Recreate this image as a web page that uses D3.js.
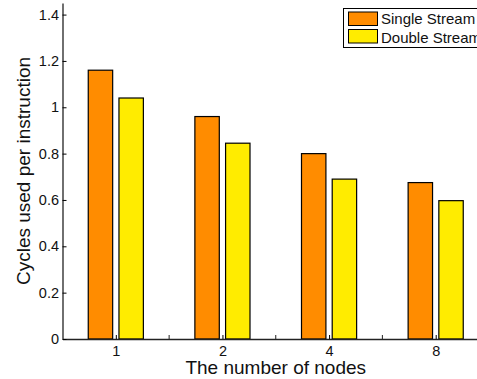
<!DOCTYPE html>
<html>

<head>
  <meta charset="utf-8">
  <script src="https://d3js.org/d3.v7.min.js"></script>
  <style>
    body { margin: 0; background: #fff; }
    text { font-family: "Liberation Sans", Arial, sans-serif; fill: #111; }
  </style>
</head>

<body>
  <div id="my_dataviz"></div>
  <script>
    // data
    var categories = ["1", "2", "4", "8"];
    var seriesNames = ["Single Stream", "Double Stream"];
    var singleStream = [1.16, 0.96, 0.80, 0.675];
    var doubleStream = [1.04, 0.845, 0.69, 0.597];
    var yTicks = [0, 0.2, 0.4, 0.6, 0.8, 1, 1.2, 1.4];
    var colors = ["#ff8c00", "#ffec00"];

    var W = 477, H = 379;
    var margin = { top: 3, right: -12, bottom: 40, left: 62.5 },
      width = W - margin.left - margin.right,
      height = H - margin.top - margin.bottom;

    var svg = d3.select("#my_dataviz")
      .append("svg")
      .attr("width", W)
      .attr("height", H)
      .append("g")
      .attr("transform", "translate(" + margin.left + "," + margin.top + ")");

    // x positions 1..4, axis runs 0.5 .. 4.5 (right part is cut off)
    var x = d3.scaleLinear()
      .domain([0.5, categories.length + 0.5])
      .range([0, width]);

    var y = d3.scaleLinear()
      .domain([0, 1.45])
      .range([height, 0]);

    var barW = 0.229, offset = 0.144;
    var series = [singleStream, doubleStream];

    // Bars
    series.forEach(function (vals, s) {
      svg.selectAll("bar" + s)
        .data(vals)
        .enter()
        .append("rect")
        .attr("x", function (d, i) { return x(i + 1 + (s === 0 ? -offset : offset) - barW / 2); })
        .attr("width", x(barW) - x(0))
        .attr("y", function (d) { return y(d); })
        .attr("height", function (d) { return y(0) - y(d); })
        .style("fill", colors[s])
        .attr("stroke", "#000")
        .attr("stroke-width", 1.2);
    });

    // X axis (ticks pointing inward)
    var xAxis = svg.append("g")
      .attr("transform", "translate(0," + height + ")")
      .call(d3.axisBottom(x)
        .tickValues(d3.range(1, categories.length + 1))
        .tickFormat(function (d) { return categories[d - 1]; })
        .tickSizeInner(-4).tickSizeOuter(0).tickPadding(7));
    xAxis.select(".domain").attr("stroke", "#222").attr("stroke-width", 1.3);
    xAxis.selectAll("text").style("font-size", "14.5px").attr("font-family", null);
    // minor ticks halfway between groups
    xAxis.selectAll("minor")
      .data([1.5, 2.5, 3.5])
      .enter()
      .append("line")
      .attr("x1", function (d) { return x(d); })
      .attr("x2", function (d) { return x(d); })
      .attr("y1", 0).attr("y2", -4)
      .attr("stroke", "#222");

    // Y axis
    var yAxis = svg.append("g")
      .call(d3.axisLeft(y)
        .tickValues(yTicks)
        .tickFormat(function (d) { return d3.format("")(+d.toFixed(1)); })
        .tickSizeInner(-4).tickSizeOuter(0).tickPadding(3.5));
    yAxis.select(".domain").attr("stroke", "#222").attr("stroke-width", 1.3);
    yAxis.selectAll("text").style("font-size", "14.5px").attr("font-family", null);

    // axis titles, centred on the full axis
    svg.append("text")
      .attr("x", width / 2)
      .attr("y", height + 34.5)
      .attr("text-anchor", "middle")
      .style("font-size", "19px")
      .text("The number of nodes");

    svg.append("text")
      .attr("transform", "translate(" + (29.5 - margin.left) + "," + (height / 2) + ")rotate(-90)")
      .attr("text-anchor", "middle")
      .style("font-size", "19px")
      .text("Cycles used per instruction");

    // Legend
    var legend = svg.append("g")
      .attr("transform", "translate(" + (343.5 - margin.left) + "," + (8.5 - margin.top) + ")");
    legend.append("rect")
      .attr("width", 150).attr("height", 39)
      .attr("fill", "#fff").attr("stroke", "#000");
    seriesNames.forEach(function (name, i) {
      legend.append("rect")
        .attr("x", 5).attr("y", 3.5 + i * 17.5)
        .attr("width", 29).attr("height", 13.5)
        .attr("fill", colors[i]).attr("stroke", "#000");
      legend.append("text")
        .attr("x", 37.5).attr("y", 15.5 + i * 18.5)
        .style("font-size", "15px")
        .text(name);
    });
  </script>
</body>

</html>
